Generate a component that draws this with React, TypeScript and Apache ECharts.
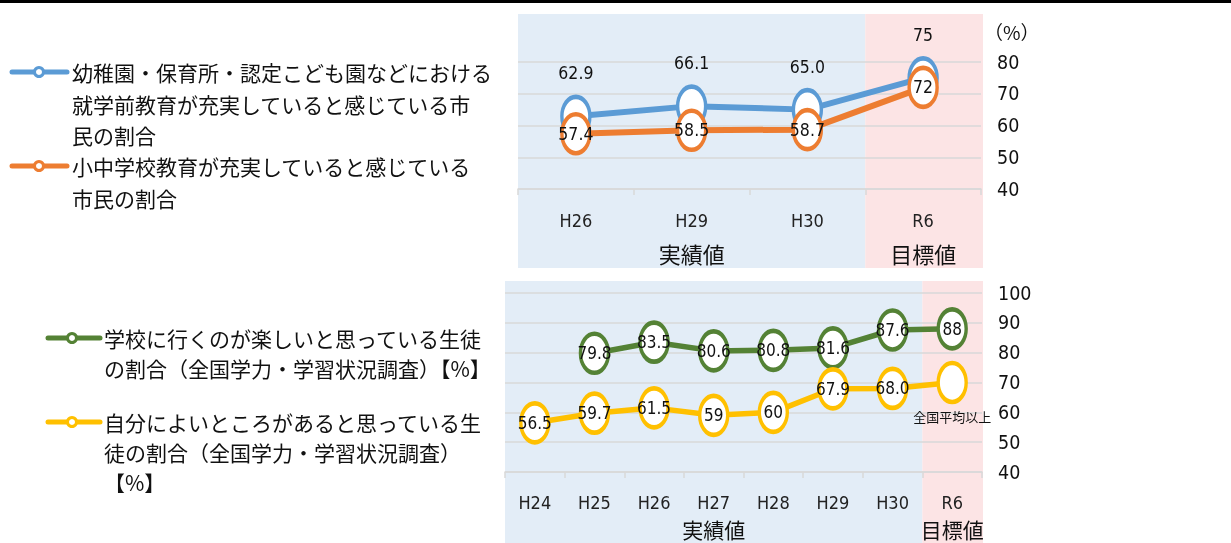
import React, { useEffect, useRef } from "react";
import * as echarts from "echarts";

// ---------- data ----------
const topCategories = ["H26", "H29", "H30", "R6"];
const preschoolValues = [62.9, 66.1, 65.0, 75];
const preschoolLabels = ["62.9", "66.1", "65.0", "75"];
const schoolValues = [57.4, 58.5, 58.7, 72];
const schoolLabels = ["57.4", "58.5", "58.7", "72"];

const bottomCategories = ["H24", "H25", "H26", "H27", "H28", "H29", "H30", "R6"];
const enjoyValues = [null, 79.8, 83.5, 80.6, 80.8, 81.6, 87.6, 88];
const enjoyLabels = ["", "79.8", "83.5", "80.6", "80.8", "81.6", "87.6", "88"];
const selfValues = [56.5, 59.7, 61.5, 59, 60, 67.9, 68.0, 70];
const selfLabels = ["56.5", "59.7", "61.5", "59", "60", "67.9", "68.0", "全国平均以上"];

const legendPreschool = "幼稚園・保育所・認定こども園などにおける\n就学前教育が充実していると感じている市\n民の割合";
const legendSchool = "小中学校教育が充実していると感じている\n市民の割合";
const legendEnjoy = "学校に行くのが楽しいと思っている生徒\nの割合（全国学力・学習状況調査）【%】";
const legendSelf = "自分によいところがあると思っている生\n徒の割合（全国学力・学習状況調査）\n【%】";
const actualLabel = "実績値";
const targetLabel = "目標値";
const unitLabel = "（%）";

// ---------- styles ----------
const NARROW = '"Liberation Sans Narrow", "DejaVu Sans Condensed", "Liberation Sans", sans-serif';
const CJK = '"Noto Sans CJK JP", "Noto Sans", sans-serif';
const BLUE = "#5B9BD5";
const ORANGE = "#ED7D31";
const GREEN = "#548235";
const YELLOW = "#FFC000";
const BG_BLUE = "#E3EDF7";
const BG_PINK = "#FCE4E5";
const GRID_LINE = "#D9D9D9";
const ELLIPSE =
  "path://M1,0 C1.5523,0 2,0.4477 2,1 C2,1.5523 1.5523,2 1,2 C0.4477,2 0,1.5523 0,1 C0,0.4477 0.4477,0 1,0 Z";

const TOP = { left: 518, right: 981, top: 62, bottom: 189 };
const BOT = { left: 505, right: 982, top: 293, bottom: 472 };

function legendIcon(x1: number, x2: number, cx: number, y: number, color: string) {
  return [
    { type: "line", shape: { x1, y1: y, x2, y2: y }, style: { stroke: color, lineWidth: 5, lineCap: "round" } },
    { type: "circle", shape: { cx, cy: y, r: 4.5 }, style: { fill: "#fff", stroke: color, lineWidth: 3 } },
  ];
}

function legendText(x: number, yFirst: number, text: string, lh: number) {
  return {
    type: "text",
    x,
    y: yFirst - lh / 2,
    style: { text, fontSize: 21, fontFamily: CJK, fill: "#111", lineHeight: lh, verticalAlign: "top", align: "left" },
  };
}

function centerText(x: number, y: number, text: string, size: number) {
  return {
    type: "text",
    x,
    y,
    style: { text, fontSize: size, fontFamily: CJK, fill: "#111", align: "center", verticalAlign: "middle" },
  };
}

function lineSeries(
  xi: number,
  color: string,
  data: any[],
  labels: string[],
  labelPos: string,
  width: number,
  fontSize: number
) {
  return {
    type: "line",
    xAxisIndex: xi,
    yAxisIndex: xi,
    data,
    symbol: ELLIPSE,
    symbolSize: [28, 39],
    showAllSymbol: true,
    lineStyle: { color, width },
    itemStyle: { color: "#fff", borderColor: color, borderWidth: 4 },
    label: {
      show: true,
      position: labelPos,
      distance: 12,
      fontSize,
      fontFamily: NARROW,
      color: "#111",
      formatter: (p: any) => labels[p.dataIndex],
    },
    z: 3,
  };
}

export default function App() {
  const ref = useRef<HTMLDivElement>(null);
  useEffect(() => {
    const chart = echarts.init(ref.current!, null, { renderer: "svg" });
    const topW = (TOP.right - TOP.left) / topCategories.length;
    const botW = (BOT.right - BOT.left) / bottomCategories.length;
    const topSplit = TOP.left + topW * (topCategories.length - 1);
    const botSplit = BOT.left + botW * (bottomCategories.length - 1);

    const xAxisCommon = (gi: number, data: string[], margin: number) => ({
      gridIndex: gi,
      type: "category",
      data,
      boundaryGap: true,
      axisLine: { lineStyle: { color: GRID_LINE, width: 1.5 } },
      axisTick: { show: true, length: 6, lineStyle: { color: GRID_LINE, width: 1.5 } },
      axisLabel: { margin, fontSize: 18, color: "#222", fontFamily: NARROW },
    });
    const yAxisCommon = (gi: number, min: number, max: number) => ({
      gridIndex: gi,
      type: "value",
      position: "right",
      min,
      max,
      interval: 10,
      axisLine: { show: false },
      axisTick: { show: false },
      splitLine: { lineStyle: { color: GRID_LINE, width: 1.5 } },
      axisLabel: { margin: 16, fontSize: 19.5, color: "#111", fontFamily: NARROW, align: "left" },
    });

    const selfData = selfValues.map((v, i) =>
      i === selfValues.length - 1
        ? { value: v, label: { position: "bottom", distance: 6, fontSize: 13, fontFamily: CJK } }
        : v
    );

    chart.setOption({
      animation: false,
      grid: [
        { left: TOP.left, width: TOP.right - TOP.left, top: TOP.top, height: TOP.bottom - TOP.top },
        { left: BOT.left, width: BOT.right - BOT.left, top: BOT.top, height: BOT.bottom - BOT.top },
      ],
      xAxis: [xAxisCommon(0, topCategories, 22), xAxisCommon(1, bottomCategories, 21)],
      yAxis: [yAxisCommon(0, 40, 80), yAxisCommon(1, 40, 100)],
      series: [
        lineSeries(0, BLUE, preschoolValues, preschoolLabels, "top", 6, 17.5),
        lineSeries(0, ORANGE, schoolValues, schoolLabels, "inside", 6, 17.5),
        lineSeries(1, GREEN, enjoyValues, enjoyLabels, "inside", 5.5, 17),
        lineSeries(1, YELLOW, selfData, selfLabels, "inside", 5.5, 17),
      ],
      graphic: [
        { type: "rect", z: -10, shape: { x: TOP.left, y: 14, width: topSplit - TOP.left, height: 254 }, style: { fill: BG_BLUE } },
        { type: "rect", z: -10, shape: { x: topSplit, y: 14, width: TOP.right + 2 - topSplit, height: 254 }, style: { fill: BG_PINK } },
        { type: "rect", z: -10, shape: { x: BOT.left, y: 281, width: botSplit - BOT.left, height: 262 }, style: { fill: BG_BLUE } },
        { type: "rect", z: -10, shape: { x: botSplit, y: 281, width: BOT.right + 1 - botSplit, height: 262 }, style: { fill: BG_PINK } },
        { type: "rect", shape: { x: 0, y: 0, width: 1231, height: 3 }, style: { fill: "#000" } },
        centerText((TOP.left + topSplit) / 2, 253, actualLabel, 22),
        centerText((topSplit + TOP.right) / 2, 253, targetLabel, 22),
        centerText((BOT.left + botSplit) / 2, 529, actualLabel, 21),
        centerText((botSplit + BOT.right) / 2, 529, targetLabel, 21),
        { type: "text", x: 984, y: 31, style: { text: unitLabel, fontSize: 19, fontFamily: CJK, fill: "#111", verticalAlign: "middle" } },
        ...legendIcon(12, 67, 39, 72, BLUE),
        legendText(72, 72, legendPreschool, 31.5),
        ...legendIcon(12, 67, 39, 166, ORANGE),
        legendText(72, 166, legendSchool, 31.5),
        ...legendIcon(48, 100, 72, 338, GREEN),
        legendText(104, 338, legendEnjoy, 30),
        ...legendIcon(48, 100, 72, 422, YELLOW),
        legendText(104, 422, legendSelf, 30),
      ],
    } as any);
    return () => chart.dispose();
  }, []);
  return <div ref={ref} style={{ position: "fixed", left: 0, top: 0, width: 1231, height: 543 }} />;
}
